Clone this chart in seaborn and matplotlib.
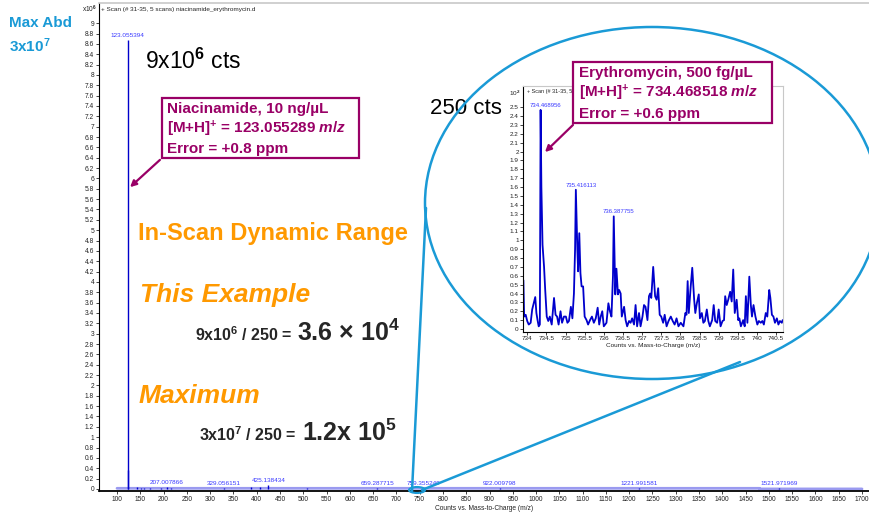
import numpy as np
import seaborn as sns
import matplotlib.pyplot as plt
from matplotlib.patches import Ellipse, Rectangle, FancyArrowPatch
from matplotlib.lines import Line2D
from matplotlib.ticker import FixedLocator, FuncFormatter

# Full scan: stick peaks (m/z, counts x10^6)
main_mz = [123.055, 124.06, 143, 151, 158, 171, 194, 207.008, 216, 329.056,
           387, 408, 425.138, 507, 659.288, 759.355, 922.010, 1221.992, 1521.972]
main_counts = [8.67, 0.37, 0.04, 0.02, 0.015, 0.02, 0.02, 0.03, 0.02, 0.015,
               0.03, 0.03, 0.075, 0.02, 0.01, 0.01, 0.01, 0.01, 0.01]
baseline_mz = [100, 1480, 1480.5, 1700]
baseline_counts = [0.012, 0.012, 0.0, 0.0]

label_mz = [123.055394, 207.007866, 329.056151, 425.138434, 659.287715,
            759.355249, 922.009798, 1221.991581, 1521.971969]
label_counts = [8.67, 0.03, 0.015, 0.075, 0.01, 0.01, 0.01, 0.01, 0.01]

# Zoomed region around erythromycin (m/z, counts x10^2)
inset_mz = [733.90, 733.92, 733.96, 734.00, 734.04, 734.09, 734.13, 734.17, 734.21, 734.24,
            734.27, 734.30, 734.33, 734.35, 734.37, 734.40, 734.44, 734.47, 734.51, 734.55,
            734.59, 734.64, 734.70, 734.74, 734.78, 734.82, 734.87, 734.91, 734.96, 735.01,
            735.05, 735.09, 735.14, 735.18, 735.22, 735.25, 735.27, 735.31, 735.33, 735.36,
            735.39, 735.42, 735.46, 735.50, 735.55, 735.59, 735.64, 735.69, 735.74, 735.79,
            735.84, 735.88, 735.92, 735.96, 736.00, 736.07, 736.12, 736.16, 736.20, 736.24,
            736.26, 736.30, 736.33, 736.37, 736.40, 736.44, 736.47, 736.53, 736.57, 736.61,
            736.66, 736.70, 736.74, 736.79, 736.83, 736.87, 736.92, 736.96, 737.01, 737.05,
            737.09, 737.14, 737.18, 737.21, 737.24, 737.29, 737.34, 737.38, 737.42, 737.46,
            737.50, 737.55, 737.59, 737.64, 737.69, 737.75, 737.80, 737.85, 737.90, 737.95,
            738.01, 738.08, 738.13, 738.16, 738.19, 738.22, 738.27, 738.31, 738.36, 738.39,
            738.43, 738.48, 738.51, 738.56, 738.60, 738.64, 738.69, 738.73, 738.77, 738.83,
            738.87, 738.91, 738.96, 739.00, 739.05, 739.10, 739.14, 739.17, 739.21, 739.25,
            739.30, 739.34, 739.38, 739.42, 739.47, 739.51, 739.54, 739.58, 739.64, 739.68,
            739.71, 739.75, 739.80, 739.84, 739.87, 739.91, 739.96, 740.01, 740.05, 740.10,
            740.14, 740.18, 740.23, 740.27, 740.32, 740.35, 740.39, 740.43, 740.47, 740.52,
            740.56, 740.60, 740.65, 740.67]
inset_counts = [0.55, 0.14, 0.16, 0.09, 0.05, 0.07, 0.22, 0.29, 0.36, 0.18,
                0.10, 0.03, 0.05, 2.47, 1.60, 0.95, 0.70, 0.44, 0.14, 0.09,
                0.14, 0.05, 0.35, 0.16, 0.14, 0.05, 0.20, 0.07, 0.14, 0.14,
                0.07, 0.09, 0.25, 0.12, 0.40, 0.90, 1.57, 0.89, 0.65, 1.08,
                0.63, 0.48, 0.48, 0.14, 0.10, 0.05, 0.10, 0.14, 0.07, 0.12,
                0.24, 0.05, 0.14, 0.20, 0.03, 0.07, 0.29, 0.20, 0.14, 0.60,
                1.27, 0.39, 0.68, 0.39, 0.44, 0.40, 0.14, 0.25, 0.10, 0.03,
                0.09, 0.07, 0.12, 0.05, 0.27, 0.03, 0.18, 0.03, 0.14, 0.27,
                0.25, 0.10, 0.37, 0.40, 0.35, 0.70, 0.37, 0.33, 0.46, 0.16,
                0.14, 0.07, 0.16, 0.03, 0.09, 0.14, 0.09, 0.05, 0.12, 0.03,
                0.07, 0.03, 0.18, 0.16, 0.54, 0.18, 0.48, 0.69, 0.33, 0.18,
                0.29, 0.39, 0.12, 0.18, 0.07, 0.09, 0.22, 0.09, 0.03, 0.10,
                0.27, 0.09, 0.07, 0.22, 0.03, 0.09, 0.10, 0.37, 0.27, 0.33,
                0.42, 0.31, 0.67, 0.18, 0.33, 0.10, 0.12, 0.03, 0.10, 0.03,
                0.37, 0.07, 0.59, 0.27, 0.14, 0.27, 0.14, 0.05, 0.09, 0.07,
                0.09, 0.05, 0.18, 0.14, 0.44, 0.35, 0.16, 0.14, 0.07, 0.12,
                0.05, 0.09, 0.07, 0.10]
inset_label_mz = [734.468956, 735.416113, 736.387755]
inset_label_counts = [2.47, 1.57, 1.27]

title = "+ Scan (# 31-35, 5 scans) niacinamide_erythromycin.d"
xlab = "Counts vs. Mass-to-Charge (m/z)"

sns.set_theme(style="white")
plt.rcParams['font.family'] = ['Liberation Sans', 'DejaVu Sans']
plt.rcParams['mathtext.fontset'] = 'custom'
plt.rcParams['mathtext.rm'] = 'Liberation Sans:bold'
plt.rcParams['mathtext.it'] = 'Liberation Sans:bold:italic'
plt.rcParams['mathtext.bf'] = 'Liberation Sans:bold'

W, H = 869, 514
fx = lambda x: x / W
fy = lambda y: 1 - y / H

PEAK = "#0000cc"
LABEL = "#3a3aff"
CYAN = "#1a9ad6"
PURPLE = "#990066"
ORANGE = "#ff9900"
fmt = FuncFormatter(lambda v, _: f"{round(v, 2):g}")

fig = plt.figure(figsize=(W / 100, H / 100), dpi=100)

# main spectrum
ax = fig.add_axes([fx(99), fy(491), 770 / W, 488 / H])
sns.lineplot(x=baseline_mz, y=baseline_counts, ax=ax, color="#9a9af0", lw=2.0)
ax.vlines(main_mz, 0, main_counts, color=PEAK, lw=1)
for mz, c in zip(label_mz, label_counts):
    ax.annotate(f"{mz:.6f}", (mz, c), xytext=(0, 1.5), textcoords="offset points",
                ha="center", va="bottom", fontsize=4.6, color=LABEL)
ax.set_xlim(61.3, 1715)
ax.set_ylim(-0.04, 9.39)
ax.xaxis.set_major_locator(FixedLocator(np.arange(100, 1701, 50)))
ax.yaxis.set_major_locator(FixedLocator(np.arange(0, 9.01, 0.2)))
ax.xaxis.set_major_formatter(fmt)
ax.yaxis.set_major_formatter(fmt)
ax.tick_params(axis="both", direction="out", length=2.5, width=0.6, pad=1,
               labelsize=4.8, colors="#222222", bottom=True, left=True)
ax.set_xlabel(xlab, fontsize=4.8, labelpad=1.5, color="#222222")
for s in ["left", "bottom"]:
    ax.spines[s].set_color("black")
ax.spines["left"].set_linewidth(0.8)
ax.spines["bottom"].set_linewidth(1.3)
ax.spines["top"].set_color("#c8c8c8")
ax.spines["top"].set_linewidth(1.2)
ax.spines["right"].set_visible(False)
fig.text(fx(101), fy(9), title, fontsize=4.6, va="center", color="#222222")
fig.text(fx(97), fy(9), r"x10$^{6}$", fontsize=4.8, ha="right", va="center", color="#222222")

# zoomed region
axi = fig.add_axes([fx(523), fy(332), 260 / W, 246 / H])
sns.lineplot(x=inset_mz, y=inset_counts, ax=axi, color=PEAK, lw=1.3)
for mz, c in zip(inset_label_mz, inset_label_counts):
    axi.annotate(f"{mz:.6f}", (mz, c), xytext=(0, 1.5), textcoords="offset points",
                 ha="center", va="bottom", fontsize=4.3, color=LABEL)
axi.set_xlim(733.89, 740.68)
axi.set_ylim(-0.034, 2.74)
axi.xaxis.set_major_locator(FixedLocator(np.arange(734, 740.51, 0.5)))
axi.yaxis.set_major_locator(FixedLocator(np.arange(0, 2.51, 0.1)))
axi.xaxis.set_major_formatter(fmt)
axi.yaxis.set_major_formatter(fmt)
axi.tick_params(axis="both", direction="out", length=2, width=0.6, pad=1,
                labelsize=4.6, colors="#222222", bottom=True, left=True)
axi.set_xlabel(xlab, fontsize=4.6, labelpad=1, color="#222222")
for s in ["left", "bottom"]:
    axi.spines[s].set_color("black")
    axi.spines[s].set_linewidth(0.8)
for s in ["top", "right"]:
    axi.spines[s].set_color("#c8c8c8")
    axi.spines[s].set_linewidth(0.8)
# title of the zoomed scan, partly hidden behind the erythromycin box as in the original
fig.text(fx(527), fy(92), title, fontsize=4.0, va="center", color="#222222")
fig.text(fx(520), fy(93), r"10$^{2}$", fontsize=4.6, ha="right", va="center", color="#222222")

# zoom callout
fig.add_artist(Ellipse((fx(652), fy(203)), 454 / W, 352 / H, transform=fig.transFigure,
                       fill=False, edgecolor=CYAN, lw=1.8, zorder=4))
fig.add_artist(Ellipse((fx(417), fy(490)), 16 / W, 6 / H, transform=fig.transFigure,
                       fill=False, edgecolor=CYAN, lw=1.5, zorder=4))
fig.add_artist(Line2D([fx(426), fx(412)], [fy(208), fy(491)], transform=fig.transFigure,
                      color=CYAN, lw=1.8, zorder=4))
fig.add_artist(Line2D([fx(422), fx(740)], [fy(490), fy(362)], transform=fig.transFigure,
                      color=CYAN, lw=1.8, zorder=4))

# left annotations
fig.text(fx(9), fy(27), "Max Abd", fontsize=11, weight="bold", color=CYAN, va="baseline")
fig.text(fx(9), fy(52), r"3x10$^{7}$", fontsize=11, weight="bold", color=CYAN, va="baseline")
fig.text(fx(145), fy(69), r"9x10$^{6}$ cts", fontsize=16.5, color="black", va="baseline")
fig.text(fx(430), fy(114), "250 cts", fontsize=16, color="black", va="baseline")

fig.text(fx(138), fy(240), "In-Scan Dynamic Range", fontsize=17, weight="bold",
         color=ORANGE, va="baseline")
fig.text(fx(140), fy(302), "This Example", fontsize=19, weight="bold", style="italic",
         color=ORANGE, va="baseline")
fig.text(fx(139), fy(403), "Maximum", fontsize=19, weight="bold", style="italic",
         color=ORANGE, va="baseline")
fig.text(fx(293), fy(341), r"9x10$^{6}$ / 250 =", fontsize=11.5, weight="bold",
         ha="right", va="baseline")
fig.text(fx(297), fy(341), r"3.6 × 10$^{4}$", fontsize=18, weight="bold", va="baseline")
fig.text(fx(297), fy(441), r"3x10$^{7}$ / 250 =", fontsize=11.5, weight="bold",
         ha="right", va="baseline")
fig.text(fx(302), fy(441), r"1.2x 10$^{5}$", fontsize=18, weight="bold", va="baseline")

# compound boxes
boxes = [
    ((162, 98, 197, 60), 167, [113, 133, 153],
     ["Niacinamide, 10 ng/µL", r"[M+H]$^{+}$ = 123.055289 $\mathit{m/z}$", "Error = +0.8 ppm"],
     ((162, 158), (128, 189))),
    ((573, 62, 199, 61), 579, [77, 97.5, 118],
     ["Erythromycin, 500 fg/µL", r"[M+H]$^{+}$ = 734.468518 $\mathit{m/z}$", "Error = +0.6 ppm"],
     ((575, 123), (543, 154))),
]
for (x0, y0, w, h), tx, ys, lines, (a0, a1) in boxes:
    fig.add_artist(Rectangle((fx(x0), fy(y0 + h)), w / W, h / H, transform=fig.transFigure,
                             facecolor="white", edgecolor=PURPLE, lw=1.6, zorder=5))
    for yy, t in zip(ys, lines):
        fig.text(fx(tx), fy(yy), t, fontsize=11, weight="bold", color=PURPLE,
                 va="baseline", zorder=6)
    fig.add_artist(FancyArrowPatch((fx(a0[0]), fy(a0[1])), (fx(a1[0]), fy(a1[1])),
                                   transform=fig.transFigure, arrowstyle="-|>",
                                   mutation_scale=9, color=PURPLE, lw=1.6, zorder=5))

fig.savefig("out.png", dpi=100)
